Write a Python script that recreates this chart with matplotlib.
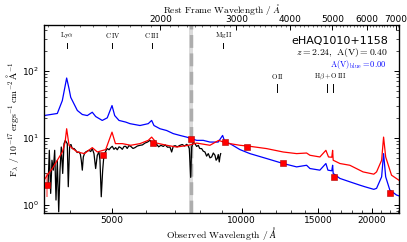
import matplotlib
matplotlib.use('Agg')
import matplotlib.pyplot as plt
import matplotlib.transforms as mtransforms
from matplotlib.ticker import NullFormatter

plt.rcParams['mathtext.fontset'] = 'cm'
plt.rcParams['font.size'] = 6.5

# --- data ---
z = 2.24

black_wl = [3561, 3586, 3612, 3637, 3663, 3690, 3716, 3742, 3770, 3796, 3822, 3851,
            3878, 3905, 3926, 3946, 3967, 3996, 4025, 4052, 4090, 4126, 4160, 4200,
            4230, 4252, 4275, 4298, 4330, 4353, 4390, 4430, 4470, 4508, 4549, 4590,
            4630, 4672, 4697, 4729, 4765, 4790, 4817, 4850, 4883, 4930, 4973, 5015,
            5060, 5106, 5150, 5200, 5244, 5290, 5340, 5387, 5430, 5480, 5532, 5600,
            5660, 5730, 5813, 5890, 5970, 6050, 6131, 6190, 6240, 6300, 6353, 6420,
            6500, 6580, 6650, 6730, 6819, 6881, 6940, 7010, 7090, 7194, 7280, 7370,
            7455, 7510, 7559, 7616, 7656, 7720, 7792, 7860, 7931, 7990, 8075, 8140,
            8217, 8290, 8364, 8440, 8515, 8590, 8667, 8720, 8774, 8820, 8868, 8900, 8935]
black_flux = [1.85, 6.48, 1.47, 4.6, 3.27, 6.48, 1.17, 4.6, 0.78, 3.27, 7.25, 2.92,
              8.14, 9.12, 8.6, 8.14, 1.85, 7.69, 7.9, 6.86, 6.9, 6.48, 6.0, 6.11,
              5.7, 4.6, 3.27, 5.15, 5.9, 6.11, 6.3, 6.48, 6.2, 6.86, 5.78, 3.46,
              5.46, 6.11, 4.6, 1.31, 3.27, 4.9, 5.78, 6.4, 6.86, 6.6, 7.10, 7.43,
              6.7, 7.10, 6.6, 7.3, 7.10, 6.7, 7.4, 7.43, 6.9, 7.6, 7.43, 6.9,
              7.10, 7.5, 7.69, 7.8, 8.31, 8.6, 9.12, 8.5, 8.31, 7.6, 7.95, 7.3,
              7.69, 7.4, 7.8, 7.2, 7.25, 6.11, 7.43, 7.6, 7.3, 7.69, 7.9, 7.5,
              7.95, 7.6, 6.86, 2.55, 7.25, 8.5, 8.14, 7.4, 7.69, 6.9, 6.86, 6.3,
              6.11, 5.3, 5.78, 5.0, 5.15, 5.9, 5.46, 4.6, 4.88, 5.6, 4.34, 5.2, 5.78]

blue_wl = [3485, 3742, 3843, 3933, 3983, 4019, 4090, 4163, 4275, 4390, 4508, 4591,
           4754, 4883, 5008, 5080, 5198, 5387, 5511, 5813, 6074, 6185, 6262, 6466,
           6699, 6940, 7194, 7452, 7655, 7862, 8143, 8438, 8817, 9027, 9140, 9386,
           9899, 10440, 11410, 12465, 13390, 14120, 14375, 15155, 15650, 15820, 16150,
           16220, 16270, 16865, 17780, 18760, 19250, 20200, 20500, 21060, 21280, 21520,
           22000, 22800, 23100]
blue_flux = [21.4, 23.0, 35.8, 77.9, 54, 40.1, 32, 25.5, 22.2, 21.4, 24.0, 20.7,
             18.1, 19.8, 30.2, 21.4, 18.1, 17.1, 16.2, 15.2, 16.2, 18.1, 15.2, 13.6,
             12.8, 11.5, 10.8, 10.2, 9.66, 9.12, 9.12, 8.6, 8.6, 10.8, 8.6, 8.15,
             6.64, 5.78, 4.88, 4.11, 3.66, 3.87, 3.46, 3.27, 4.11, 3.27, 3.2,
             3.87, 2.92, 2.46, 2.19, 1.95, 1.85, 1.69, 1.75, 2.6, 5.78, 2.6,
             1.65, 1.39, 1.35]

red_wl = [3485, 3547, 3643, 3742, 3843, 3900, 3933, 3983, 4062, 4163, 4323, 4508,
          4632, 4842, 5008, 5100, 5290, 5533, 5813, 6074, 6185, 6353, 6699, 7066,
          7530, 7862, 8438, 8840, 9220, 9899, 10440, 11410, 12465, 13390, 14120,
          14375, 15155, 15650, 15870, 16150, 16220, 16270, 16865, 17780, 19080,
          20200, 20500, 21060, 21280, 21520, 22200, 23080]
red_flux = [2.3, 2.75, 3.46, 4.6, 6.11, 8.5, 13.6, 7.7, 6.87, 6.11, 5.78, 7.1,
            6.11, 6.64, 12.1, 8.15, 8.15, 7.7, 8.15, 9.12, 10.2, 8.3, 7.7, 7.25,
            7.7, 8.3, 7.7, 9.12, 8.3, 7.7, 7.43, 6.87, 6.11, 5.78, 5.9,
            5.46, 5.15, 6.47, 5.15, 5.1, 6.47, 4.6, 4.11, 3.87, 3.08,
            2.85, 3.08, 4.6, 10.2, 5.15, 2.75, 2.32]

phot_wl = [3540, 4770, 6220, 7630, 9140, 10290, 12470, 16330, 22000]
phot_flux = [1.95, 5.5, 8.2, 9.4, 8.5, 7.2, 4.25, 2.6, 1.5]
phot_err_lo = [0.64, 0.1, 0.1, 0.1, 0.15, 0.1, 0.08, 0.05, 0.05]
phot_err_hi = [0.97, 0.1, 0.1, 0.1, 0.15, 0.1, 0.08, 0.05, 0.05]

line_names = [r'$\mathrm{Ly\alpha}$', r'$\mathrm{C\,IV}$', r'$\mathrm{C\,III}$',
              r'$\mathrm{Mg\,II}$', r'$\mathrm{O\,II}$', r'$\mathrm{H\beta}$', r'$\mathrm{O\,III}$']
line_rest = [1216, 1549, 1909, 2799, 3727, 4861, 5007]

xticks_obs = [5000, 10000, 15000, 20000]
xticks_rest = [2000, 3000, 4000, 5000, 6000, 7000]

# --- figure ---
fig = plt.figure(figsize=(4.07, 2.42), dpi=100)
ax = fig.add_axes([0.108, 0.12, 0.872, 0.776])
ax.set_xscale('log')
ax.set_yscale('log')
xmin, xmax = 3485, 23085
ax.set_xlim(xmin, xmax)
ax.set_ylim(0.75, 480)

# telluric band
ax.axvspan(7560, 7690, color='0.86', zorder=0, lw=0)
ax.axvline(7625, color='0.68', ls='--', lw=2.5, zorder=0.5)

ax.plot(blue_wl, blue_flux, color='b', lw=0.9, zorder=2)
ax.plot(black_wl, black_flux, color='k', lw=0.9, zorder=3)
ax.plot(red_wl, red_flux, color='r', lw=0.9, zorder=3.5)
ax.errorbar(phot_wl, phot_flux, yerr=[phot_err_lo, phot_err_hi], fmt='none',
            ecolor='r', alpha=0.5, elinewidth=1.2, zorder=4)
ax.plot(phot_wl, phot_flux, 's', color='r', mec='#b00000', mew=0.4, ms=4.2, zorder=5)

# emission line markers
trans = mtransforms.blended_transform_factory(ax.transData, ax.transAxes)
for name, rest in zip(line_names, line_rest):
    obs = rest * (1 + z)
    if rest < 3000:
        ax.plot([obs, obs], [0.878, 0.905], color='k', lw=0.7, transform=trans)
        ax.text(obs, 0.945, name, fontsize=5, ha='center', va='center', transform=trans)
    else:
        ax.plot([obs, obs], [0.646, 0.688], color='k', lw=0.7, transform=trans)
        if rest == 3727:
            ax.text(obs, 0.725, name, fontsize=5, ha='center', va='center', transform=trans)
hb = (line_rest[5] + line_rest[6]) / 2 * (1 + z)
ax.text(hb, 0.725, r'$\mathrm{H\beta+O\,III}$', fontsize=5, ha='center', va='center',
        transform=trans)

ax.text(0.97, 0.918, 'eHAQ1010+1158', fontsize=8, ha='right', va='center',
        transform=ax.transAxes)
ax.text(0.97, 0.852, r'$z = 2.24,\ \mathrm{A(V)} = 0.40$', fontsize=7, ha='right',
        va='center', transform=ax.transAxes)
ax.text(0.966, 0.79, r'$\mathrm{A(V)_{blue}} = 0.00$', fontsize=6, ha='right',
        va='center', color='b', transform=ax.transAxes)

# ticks
ax.set_xticks(xticks_obs)
ax.set_xticklabels([str(t) for t in xticks_obs])
ax.set_xticks([w for w in range(4000, 24000, 1000) if w not in xticks_obs], minor=True)
ax.xaxis.set_minor_formatter(NullFormatter())
ax.tick_params(which='both', direction='in', top=False, right=True, labelsize=6.5)
ax.tick_params(which='major', length=3.5, width=0.7)
ax.tick_params(which='minor', length=2, width=0.5)
ax.tick_params(axis='x', pad=2.5)

ax2 = ax.twiny()
ax2.set_xscale('log')
ax2.set_xlim(xmin / (1 + z), xmax / (1 + z))
ax2.set_xticks(xticks_rest)
ax2.set_xticklabels([str(t) for t in xticks_rest])
ax2.set_xticks([w for w in range(1100, 7200, 100) if w not in xticks_rest], minor=True)
ax2.xaxis.set_minor_formatter(NullFormatter())
ax2.tick_params(which='both', direction='in', labelsize=6.5, pad=0.6)
ax2.tick_params(which='major', length=3.5, width=0.7)
ax2.tick_params(which='minor', length=1.5, width=0.4)
ax2.set_xlabel(r'$\mathrm{Rest\ Frame\ Wavelength}\ /\ \AA$', fontsize=6.8, labelpad=1.8)

ax.set_xlabel(r'$\mathrm{Observed\ Wavelength}\ /\ \AA$', fontsize=7, labelpad=0)
ax.set_ylabel(r'$\mathrm{F}_{\lambda}\ /\ 10^{-17}\,\mathrm{ergs^{-1}\,cm^{-2}\,\AA^{-1}}$',
              fontsize=7, labelpad=1)

for sp in ax.spines.values():
    sp.set_linewidth(0.9)

fig.savefig('out.png', dpi=100)
